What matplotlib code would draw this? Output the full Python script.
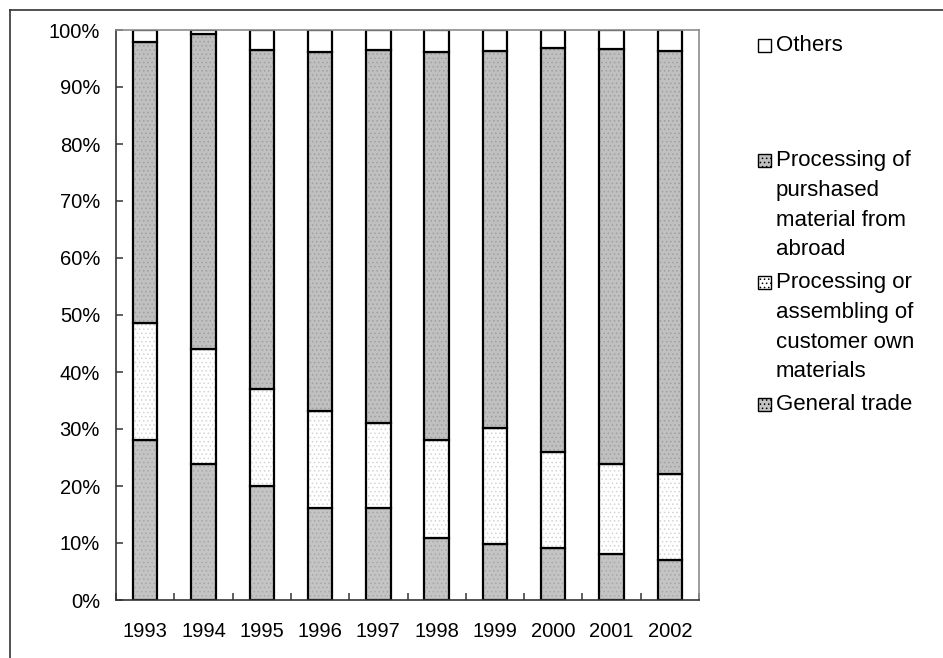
import numpy as np
import matplotlib
matplotlib.use('Agg')
import matplotlib.pyplot as plt
from matplotlib.patches import Rectangle
from matplotlib.lines import Line2D
from matplotlib.ticker import PercentFormatter

plt.rcParams['font.family'] = ['Liberation Sans', 'DejaVu Sans']
plt.rcParams['hatch.linewidth'] = 0.6

# ========== data (share of exports, %) ==========
years = ['1993', '1994', '1995', '1996', '1997', '1998', '1999', '2000', '2001', '2002']
general_trade = [28.1, 23.9, 20.0, 16.1, 16.1, 10.9, 9.8, 9.1, 8.0, 7.0]
assembling    = [20.5, 20.1, 17.0, 17.1, 14.9, 17.2, 20.4, 16.8, 15.9, 15.1]
purchased     = [49.3, 55.3, 59.5, 62.9, 65.5, 68.0, 66.2, 70.9, 72.8, 74.3]
others        = [2.1, 0.7, 3.5, 3.9, 3.5, 3.9, 3.6, 3.2, 3.3, 3.6]

labels = ['General trade',
          'Processing or\nassembling of\ncustomer own\nmaterials',
          'Processing of\npurshased\nmaterial from\nabroad',
          'Others']
series = [general_trade, assembling, purchased, others]
fills = ['#c4c4c4', 'white', '#c0c0c0', 'white']
hatches = ['....', '....', '....', None]
hatch_cols = ['#a8a8a8', '#d4d4d4', '#a0a0a0', 'white']

W, H = 943, 658
fig = plt.figure(figsize=(W / 100, H / 100), dpi=100)
ax = fig.add_axes([116 / W, 1 - 600 / H, 583 / W, 570 / H])

x = np.arange(len(years))
bottom = np.zeros(len(years))
for vals, fc, h, hc in zip(series, fills, hatches, hatch_cols):
    v = np.array(vals) / 100
    ax.bar(x, v, 0.42, bottom=bottom, color=fc, hatch=h, edgecolor=hc, linewidth=0)
    ax.bar(x, v, 0.42, bottom=bottom, fill=False, edgecolor='black', linewidth=1.6)
    bottom += v

ax.set_xlim(-0.5, len(years) - 0.5)
ax.set_ylim(0, 1)
ax.set_yticks(np.arange(0, 1.01, 0.1))
ax.yaxis.set_major_formatter(PercentFormatter(1.0, decimals=0))
ax.set_xticks(x)
ax.set_xticklabels(years)
ax.set_xticks(np.arange(-0.5, len(years), 1), minor=True)
ax.tick_params(axis='x', which='major', length=0, pad=16, labelsize=14.5)
ax.tick_params(axis='x', which='minor', direction='in', length=5, width=1.2, color='#444444')
ax.tick_params(axis='y', direction='in', length=5, width=1.2, color='#444444', pad=11.5, labelsize=14.5)

for side in ['left', 'bottom']:
    ax.spines[side].set_color('#333333')
    ax.spines[side].set_linewidth(1.2)
for side in ['top', 'right']:
    ax.spines[side].set_color('#8c8c8c')
    ax.spines[side].set_linewidth(1.2)

# legend, drawn by hand so the key box sits on the first line (Excel style)
leg_order = [3, 2, 1, 0]
leg_rows = [45, 160, 282, 404]   # pixel row of each entry's first line
for i, row in zip(leg_order, leg_rows):
    fig.add_artist(Rectangle((758 / W, 1 - (row + 6.5) / H), 13 / W, 13 / H,
                             transform=fig.transFigure, facecolor=fills[i],
                             hatch=hatches[i], edgecolor='black', linewidth=1.0))
    fig.text(776 / W, 1 - (row - 10) / H, labels[i], fontsize=16, va='top', ha='left',
             linespacing=1.55)

# outer frame lines (top and left)
fig.add_artist(Line2D([10 / W, 1.0], [1 - 10 / H, 1 - 10 / H], transform=fig.transFigure,
                      color='#333333', lw=1.2))
fig.add_artist(Line2D([10 / W, 10 / W], [0.0, 1 - 10 / H], transform=fig.transFigure,
                      color='#333333', lw=1.2))

fig.savefig('out.png', dpi=100)
